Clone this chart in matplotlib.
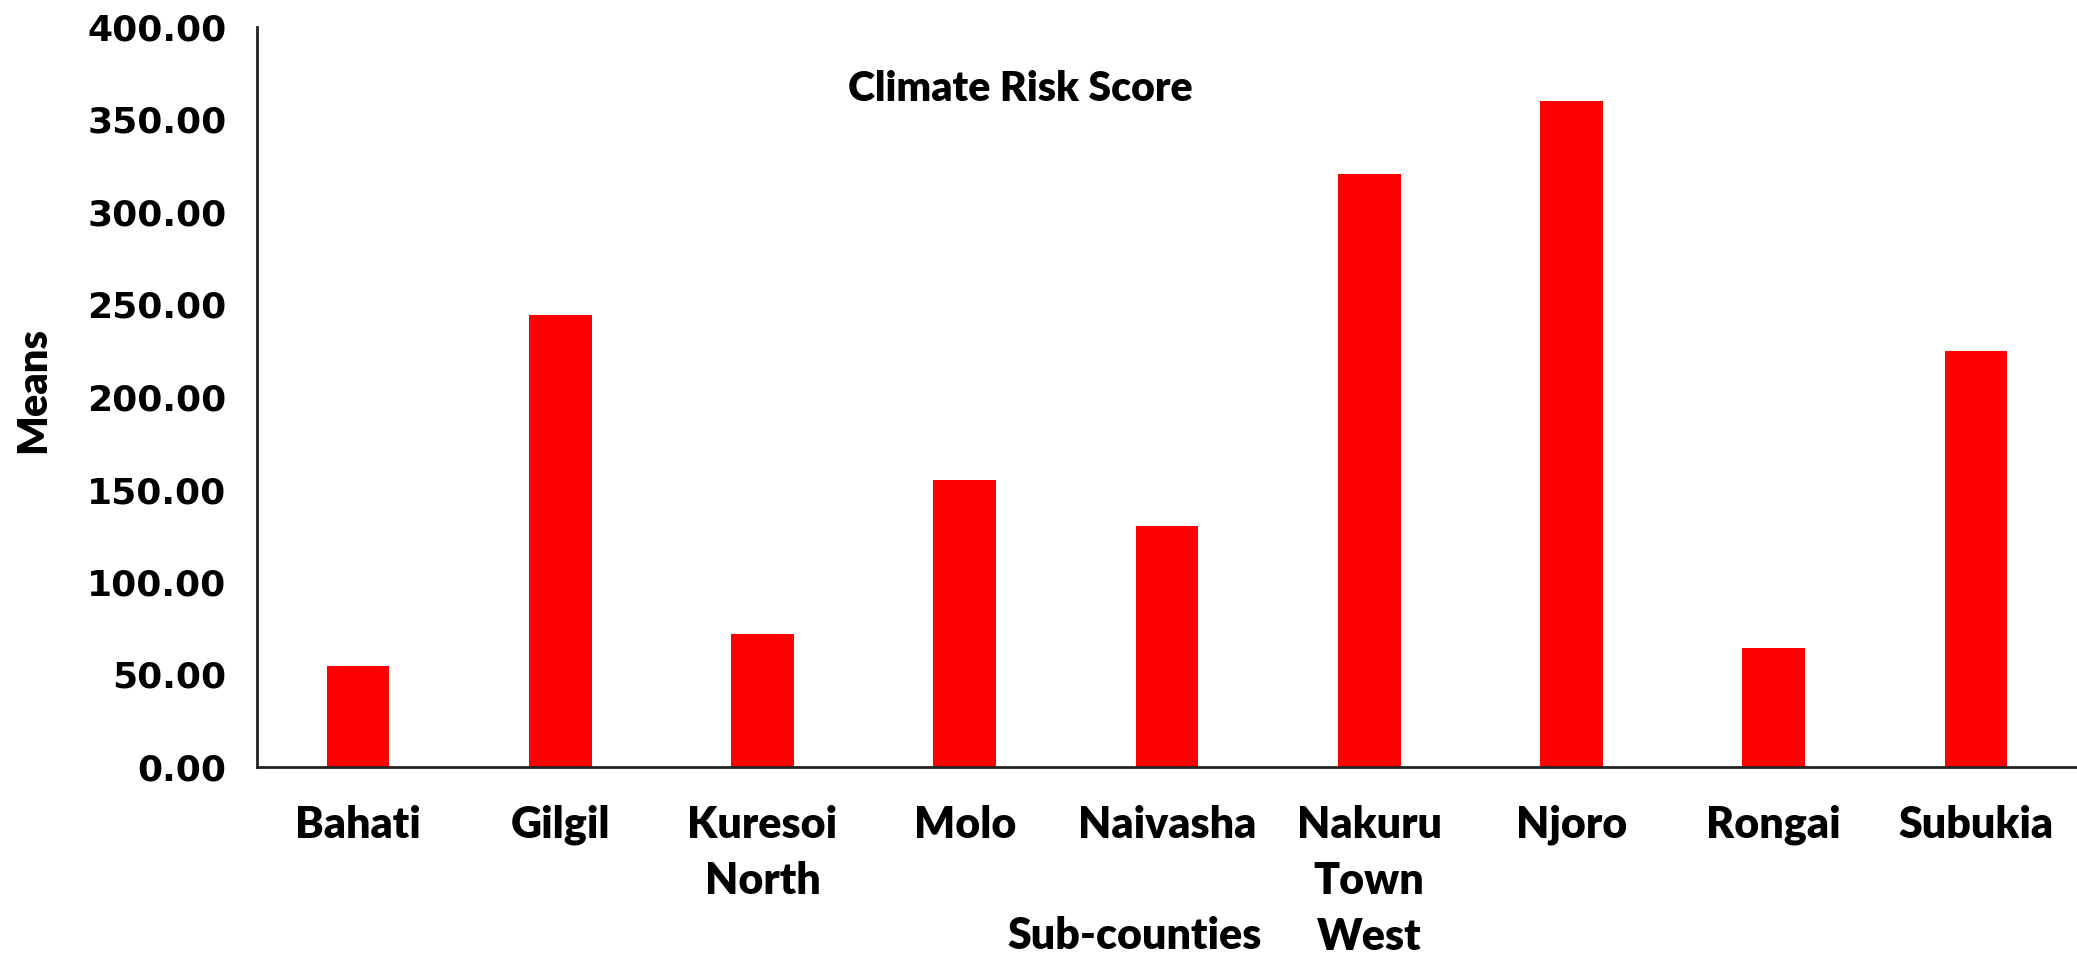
import matplotlib
matplotlib.use("Agg")
import matplotlib.pyplot as plt

categories = ["Bahati", "Gilgil", "Kuresoi\nNorth", "Molo", "Naivasha",
              "Nakuru\nTown\nWest", "Njoro", "Rongai", "Subukia"]
values = [54.5, 244.5, 71.7, 155.3, 130.2, 320.6, 360.0, 64.5, 224.8]
yticks = [0, 50, 100, 150, 200, 250, 300, 350, 400]
ytick_labels = [f"{v:.2f}" for v in yticks]

fig = plt.figure(figsize=(20.77, 9.55), dpi=100)
ax = fig.add_axes([257/2077, 1-767/955, 1-257/2077, (767-27)/955])

x = list(range(len(categories)))
ax.bar(x, values, width=0.31, color="#ff0000")
ax.set_xlim(-0.5, len(categories)-0.5)
ax.set_ylim(0, 400)

ax.set_yticks(yticks)
ax.set_yticklabels(ytick_labels, fontfamily="DejaVu Sans", fontweight="heavy", fontsize=26)
ax.set_xticks(x)
ax.set_xticklabels(categories, fontfamily="Lato", fontweight="heavy", fontsize=31,
                   linespacing=1.5, va="top")
ax.tick_params(axis="y", length=0, pad=22)
ax.tick_params(axis="x", length=0, pad=27)

for s in ["top", "right"]:
    ax.spines[s].set_visible(False)
for s in ["left", "bottom"]:
    ax.spines[s].set_linewidth(2)
    ax.spines[s].set_color("#222222")

fig.text(33/2077, 1-390/955, "Means", rotation=90, ha="center", va="center",
         fontfamily="Lato", fontweight="heavy", fontsize=30)
fig.text(1020/2077, 1-89/955, "Climate Risk Score", ha="center", va="center",
         fontfamily="Lato", fontweight="heavy", fontsize=29.5)
fig.text(1135/2077, 1-936/955, "Sub-counties", ha="center", va="center",
         fontfamily="Lato", fontweight="heavy", fontsize=31)

fig.savefig("out.png", dpi=100)
